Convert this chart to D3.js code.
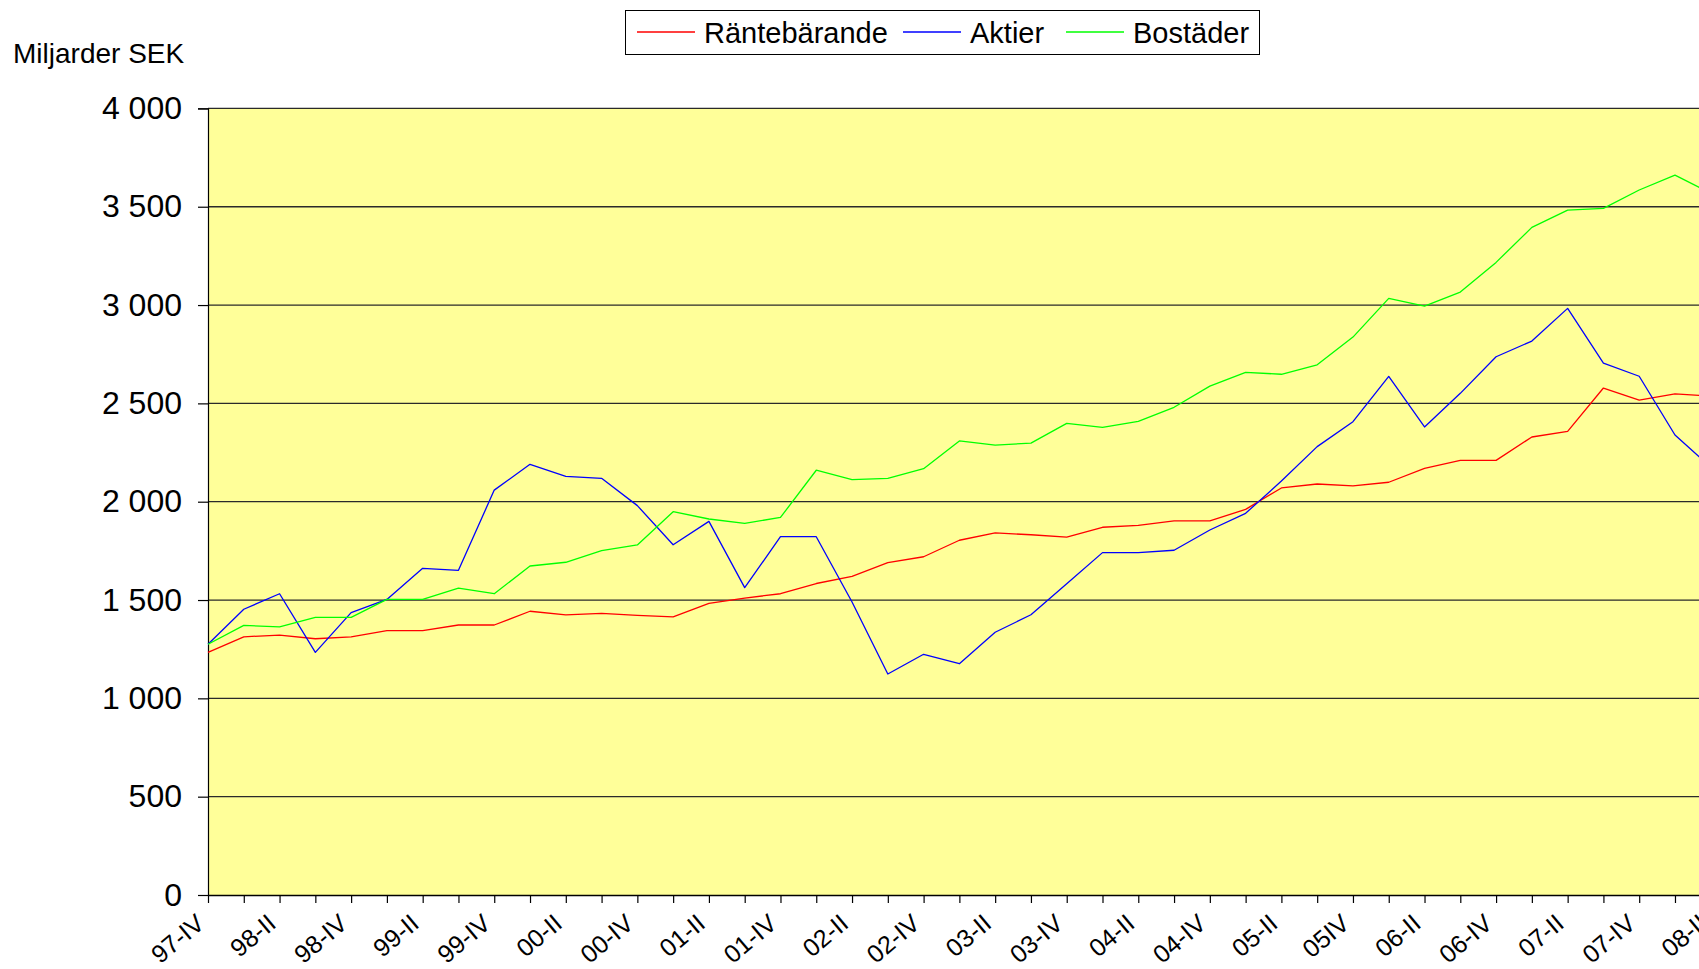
<!DOCTYPE html>
<html>
<head>
<meta charset="utf-8">
<script src="https://cdn.jsdelivr.net/npm/d3@7"></script>
<style>
  body { margin: 0; background: #fff; }
  svg { display: block; font-family: "Liberation Sans", Arial, sans-serif; }
</style>
</head>
<body>
<div id="chart"></div>
<script>
// kvartal 97-IV .. 08-II
const quarters = ["97-IV",
  "98-I", "98-II", "98-III", "98-IV",
  "99-I", "99-II", "99-III", "99-IV",
  "00-I", "00-II", "00-III", "00-IV",
  "01-I", "01-II", "01-III", "01-IV",
  "02-I", "02-II", "02-III", "02-IV",
  "03-I", "03-II", "03-III", "03-IV",
  "04-I", "04-II", "04-III", "04-IV",
  "05-I", "05-II", "05-III", "05IV",
  "06-I", "06-II", "06-III", "06-IV",
  "07-I", "07-II", "07-III", "07-IV",
  "08-I", "08-II"];

const rantebarande = [1234, 1313, 1322, 1303, 1313, 1344, 1344, 1373, 1373, 1443,
  1424, 1432, 1422, 1414, 1483, 1510, 1532, 1584, 1620, 1690,
  1720, 1804, 1841, 1832, 1820, 1870, 1880, 1902, 1902, 1961,
  2070, 2090, 2080, 2099, 2170, 2210, 2210, 2329, 2358, 2578,
  2517, 2548, 2537];

const aktier = [1275, 1453, 1532, 1234, 1436, 1503, 1661, 1651, 2059, 2190,
  2129, 2119, 1980, 1781, 1900, 1563, 1822, 1822, 1490, 1124,
  1224, 1176, 1336, 1425, 1583, 1741, 1741, 1753, 1856, 1941,
  2105, 2280, 2407, 2637, 2380, 2551, 2737, 2817, 2983, 2705,
  2638, 2339, 2175];

const bostader = [1275, 1371, 1363, 1412, 1412, 1503, 1503, 1561, 1532, 1673,
  1692, 1751, 1780, 1949, 1912, 1890, 1920, 2160, 2112, 2119,
  2168, 2309, 2288, 2298, 2398, 2378, 2409, 2480, 2588, 2658,
  2648, 2696, 2837, 3034, 2995, 3066, 3217, 3395, 3483, 3492,
  3585, 3661, 3569];

const yTicks = [0, 500, 1000, 1500, 2000, 2500, 3000, 3500, 4000];

const series = [
  { name: "Räntebärande", values: rantebarande, color: "#ff0000" },
  { name: "Aktier", values: aktier, color: "#0000ff" },
  { name: "Bostäder", values: bostader, color: "#00ff00" }
];

const width = 1699, height = 969;
const plotLeft = 208, plotTop = 108.4, plotBottom = 895;
const step = 35.78;

const svg = d3.select("#chart").append("svg")
  .attr("width", width)
  .attr("height", height);

const x = d3.scalePoint()
  .domain(quarters)
  .range([plotLeft, plotLeft + step * (quarters.length - 1)]);

const y = d3.scaleLinear()
  .domain([0, 4000])
  .range([plotBottom, plotTop]);

// plot area (runs off the right edge like the original)
svg.append("rect")
  .attr("x", plotLeft)
  .attr("y", plotTop)
  .attr("width", x.range()[1] - plotLeft + 10)
  .attr("height", plotBottom - plotTop)
  .attr("fill", "#ffff99");

// gridlines
svg.append("g")
  .selectAll("line")
  .data(yTicks.filter(d => d > 0))
  .join("line")
  .attr("x1", plotLeft)
  .attr("x2", width)
  .attr("y1", d => y(d))
  .attr("y2", d => y(d))
  .attr("stroke", "#2a2a2a")
  .attr("stroke-width", 1.3);

// y axis
const fmt = d => d3.format(",")(d).replace(/,/g, " ");
const yAxis = svg.append("g")
  .attr("transform", `translate(${plotLeft},0)`)
  .call(d3.axisLeft(y).tickValues(yTicks).tickSize(10).tickPadding(16).tickFormat(fmt));
yAxis.select(".domain").attr("stroke", "#000").attr("stroke-width", 1.2);
yAxis.selectAll(".tick line").attr("stroke", "#000").attr("stroke-width", 1.2);
yAxis.selectAll("text")
  .attr("font-size", 32)
  .attr("font-family", "'Liberation Sans', Arial, sans-serif")
  .attr("fill", "#000");

// x axis
const xAxis = svg.append("g")
  .attr("transform", `translate(0,${plotBottom})`)
  .call(d3.axisBottom(x).tickSize(8).tickSizeOuter(0).tickFormat(""));
xAxis.select(".domain").attr("stroke", "#000").attr("stroke-width", 1.5);
xAxis.selectAll(".tick line").attr("stroke", "#000").attr("stroke-width", 1.2);

// etiketter varannan kvartal
svg.append("g")
  .selectAll("text")
  .data(quarters.filter((d, i) => i % 2 === 0))
  .join("text")
  .attr("transform", d => `translate(${x(d) - 2},${plotBottom + 31}) rotate(-40)`)
  .attr("text-anchor", "end")
  .attr("font-size", 25)
  .attr("fill", "#000")
  .text(d => d);

// lines
const line = d3.line()
  .x((d, i) => x(quarters[i]))
  .y(d => y(d));

svg.append("g")
  .selectAll("path")
  .data(series)
  .join("path")
  .attr("d", d => line(d.values))
  .attr("fill", "none")
  .attr("stroke", d => d.color)
  .attr("stroke-width", 1.3)
  .attr("stroke-linejoin", "round");

// y title
svg.append("text")
  .attr("x", 13)
  .attr("y", 63)
  .attr("font-size", 28)
  .attr("fill", "#000")
  .text("Miljarder SEK");

// legend
const legend = svg.append("g");
legend.append("rect")
  .attr("x", 625.5)
  .attr("y", 10.5)
  .attr("width", 634)
  .attr("height", 44)
  .attr("fill", "#fff")
  .attr("stroke", "#000")
  .attr("stroke-width", 1);

const legendX = [637, 903, 1066];
const items = legend.selectAll("g.item")
  .data(series)
  .join("g")
  .attr("class", "item")
  .attr("transform", (d, i) => `translate(${legendX[i]},0)`);
items.append("line")
  .attr("x1", 0).attr("x2", 58)
  .attr("y1", 32).attr("y2", 32)
  .attr("stroke", d => d.color)
  .attr("stroke-width", 1.3);
items.append("text")
  .attr("x", 67)
  .attr("y", 43)
  .attr("font-size", 29)
  .attr("fill", "#000")
  .text(d => d.name);
</script>
</body>
</html>
